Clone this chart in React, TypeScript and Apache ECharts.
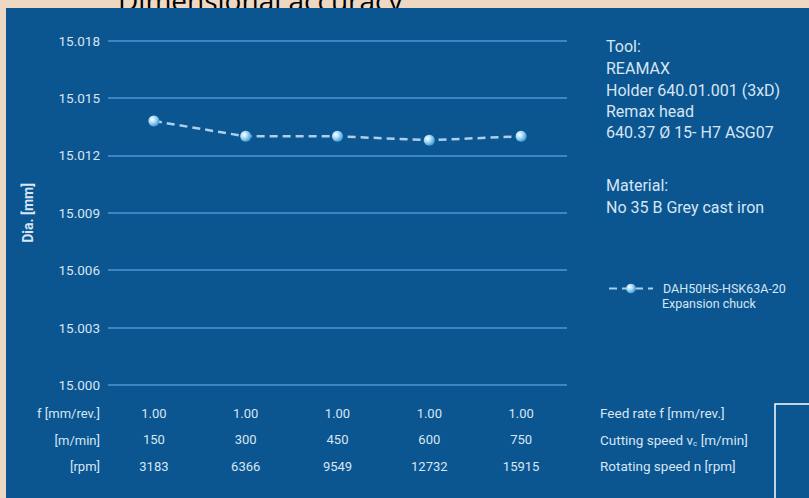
import React, { useEffect, useRef } from 'react';
import * as echarts from 'echarts';

const title = 'Dimensional accuracy';
const cuttingSpeed = ['150', '300', '450', '600', '750'];
const feedRate = ['1.00', '1.00', '1.00', '1.00', '1.00'];
const rpm = ['3183', '6366', '9549', '12732', '15915'];
const diameter = [15.0138, 15.013, 15.013, 15.0128, 15.013];
const yMin = 15.0;
const yMax = 15.018;
const yStep = 0.003;
const yName = 'Dia. [mm]';
const rowLabels = ['f [mm/rev.]', '[m/min]', '[rpm]'];
const rowDescriptions = ['Feed rate f [mm/rev.]', 'Cutting speed v{sub|c} [m/min]', 'Rotating speed n [rpm]'];
const toolLines = ['Tool:', 'REAMAX', 'Holder 640.01.001 (3xD)', 'Remax head', '640.37 Ø 15- H7 ASG07'];
const materialLines = ['Material:', 'No 35 B Grey cast iron'];
const seriesName = 'DAH50HS-HSK63A-20';
const seriesNote = 'Expansion chuck';

const FONT = 'Roboto, "Noto Sans", sans-serif';
const TXT = '#d6e6f3';

export default function App() {
  const ref = useRef<HTMLDivElement>(null);
  useEffect(() => {
    if (!ref.current) return;
    const chart = echarts.init(ref.current, null, { renderer: 'svg' });
    const toolY = [46, 68, 90, 111, 132];
    const matY = [185, 207];
    const rowY = [413, 440, 466];
    const graphic: any[] = [
      {
        type: 'text', z: -2, x: 118, y: 0,
        style: { text: title, fill: '#000000', fontSize: 28, fontFamily: '"Open Sans", sans-serif', textAlign: 'left', textVerticalAlign: 'middle' },
      },
      {
        type: 'rect', z: -1, shape: { x: 6, y: 8, width: 810, height: 500 },
        style: { fill: '#0b5591' },
      },
      {
        type: 'rect', z: 10, shape: { x: 775, y: 404, width: 60, height: 120 },
        style: { fill: 'none', stroke: '#ffffff', lineWidth: 1.5 },
      },
    ];
    toolLines.forEach((t, i) => graphic.push({
      type: 'text', z: 10, x: 606, y: toolY[i],
      style: { text: t, fill: TXT, fontSize: 16, fontFamily: FONT, textAlign: 'left', textVerticalAlign: 'middle' },
    }));
    materialLines.forEach((t, i) => graphic.push({
      type: 'text', z: 10, x: 606, y: matY[i],
      style: { text: t, fill: TXT, fontSize: 16, fontFamily: FONT, textAlign: 'left', textVerticalAlign: 'middle' },
    }));
    rowLabels.forEach((t, i) => graphic.push({
      type: 'text', z: 10, x: 100, y: rowY[i],
      style: { text: t, fill: TXT, fontSize: 13, fontFamily: FONT, textAlign: 'right', textVerticalAlign: 'middle' },
    }));
    rowDescriptions.forEach((t, i) => graphic.push({
      type: 'text', z: 10, x: 600, y: rowY[i],
      style: {
        text: t, fill: TXT, fontSize: 13.5, fontFamily: FONT, textAlign: 'left', textVerticalAlign: 'middle',
        rich: { sub: { fontSize: 8, fill: TXT, fontFamily: FONT, padding: [7, 0, 0, 0] } },
      },
    }));
    graphic.push({
      type: 'text', z: 10, x: 662, y: 303,
      style: { text: seriesNote, fill: TXT, fontSize: 12.5, fontFamily: FONT, textAlign: 'left', textVerticalAlign: 'middle' },
    });

    const sphere = new echarts.graphic.RadialGradient(0.35, 0.35, 0.7, [
      { offset: 0, color: '#ffffff' },
      { offset: 0.45, color: '#a8dcf7' },
      { offset: 1, color: '#3a94d2' },
    ]);

    chart.setOption({
      animation: false,
      backgroundColor: '#edd8c3',
      graphic,
      grid: { left: 108, right: 242, top: 40.7, bottom: 113, containLabel: false },
      legend: {
        left: 608, top: 282, itemWidth: 44, itemHeight: 12, padding: 0,
        data: [seriesName],
        textStyle: { color: TXT, fontSize: 12.5, fontFamily: FONT, padding: [0, 0, 0, 5] },
      },
      xAxis: {
        type: 'category',
        data: cuttingSpeed,
        axisLine: { show: false },
        axisTick: { show: false },
        axisLabel: {
          margin: 15,
          color: TXT,
          fontSize: 13,
          fontFamily: FONT,
          lineHeight: 26.5,
          formatter: (v: string, i: number) => `${feedRate[i]}\n${v}\n${rpm[i]}`,
        },
      },
      yAxis: {
        type: 'value',
        min: yMin,
        max: yMax,
        interval: yStep,
        name: yName,
        nameLocation: 'middle',
        nameGap: 73,
        nameRotate: 90,
        nameTextStyle: { color: TXT, fontSize: 14, fontWeight: 'bold', fontFamily: FONT },
        axisLine: { show: false },
        axisTick: { show: false },
        axisLabel: { color: TXT, fontSize: 13.5, fontFamily: FONT, margin: 8, formatter: (v: number) => v.toFixed(3) },
        splitLine: { lineStyle: { color: '#3a86c6', width: 2 } },
      },
      series: [
        {
          name: seriesName,
          type: 'line',
          data: diameter,
          symbol: 'circle',
          symbolSize: 11,
          lineStyle: { color: '#aad0ee', width: 2.5, type: [8, 5] },
          itemStyle: { color: sphere, borderWidth: 0 },
        },
      ],
    });
    return () => chart.dispose();
  }, []);
  return <div ref={ref} style={{ position: 'fixed', left: 0, top: 0, width: 809, height: 498 }} />;
}
